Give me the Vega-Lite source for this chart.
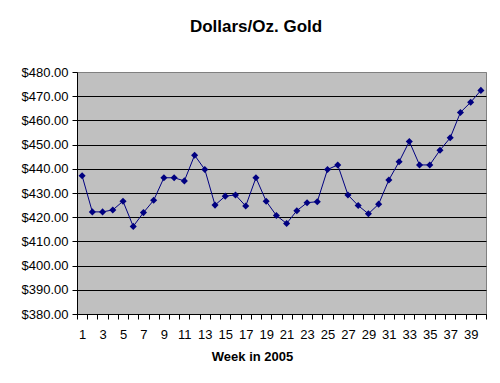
{
  "$schema": "https://vega.github.io/schema/vega-lite/v6.json",
  "width": 409,
  "height": 242,
  "autosize": {"type": "none"},
  "padding": {"left": 77, "top": 72, "right": 14, "bottom": 69},
  "background": "white",
  "title": {
    "text": "Dollars/Oz. Gold",
    "font": "Liberation Sans",
    "fontSize": 17,
    "fontWeight": "bold",
    "color": "black",
    "frame": "bounds",
    "anchor": "middle",
    "offset": 30
  },
  "config": {
    "view": {"fill": "#C0C0C0", "stroke": "#808080", "strokeWidth": 1},
    "axis": {
      "labelFont": "Liberation Sans",
      "labelFontSize": 13,
      "labelColor": "black",
      "titleFont": "Liberation Sans",
      "titleFontSize": 13,
      "titleFontWeight": "bold",
      "titleColor": "black",
      "domain": true,
      "domainColor": "#000000",
      "domainWidth": 1,
      "ticks": true,
      "tickColor": "#000000",
      "tickWidth": 1,
      "tickSize": 5
    }
  },
  "data": {
    "values": [
      {"week": 1, "price": 437.1},
      {"week": 2, "price": 422.2},
      {"week": 3, "price": 422.2},
      {"week": 4, "price": 423.0},
      {"week": 5, "price": 426.6},
      {"week": 6, "price": 416.2},
      {"week": 7, "price": 421.9},
      {"week": 8, "price": 427.0},
      {"week": 9, "price": 436.3},
      {"week": 10, "price": 436.3},
      {"week": 11, "price": 435.0},
      {"week": 12, "price": 445.6},
      {"week": 13, "price": 439.7},
      {"week": 14, "price": 425.0},
      {"week": 15, "price": 428.7},
      {"week": 16, "price": 429.2},
      {"week": 17, "price": 424.6},
      {"week": 18, "price": 436.3},
      {"week": 19, "price": 426.6},
      {"week": 20, "price": 420.7},
      {"week": 21, "price": 417.4},
      {"week": 22, "price": 422.7},
      {"week": 23, "price": 426.0},
      {"week": 24, "price": 426.4},
      {"week": 25, "price": 439.7},
      {"week": 26, "price": 441.6},
      {"week": 27, "price": 429.2},
      {"week": 28, "price": 424.8},
      {"week": 29, "price": 421.4},
      {"week": 30, "price": 425.4},
      {"week": 31, "price": 435.4},
      {"week": 32, "price": 442.9},
      {"week": 33, "price": 451.3},
      {"week": 34, "price": 441.6},
      {"week": 35, "price": 441.6},
      {"week": 36, "price": 447.7},
      {"week": 37, "price": 452.8},
      {"week": 38, "price": 463.3},
      {"week": 39, "price": 467.5},
      {"week": 40, "price": 472.4}
    ]
  },
  "encoding": {
    "x": {
      "field": "week",
      "type": "quantitative",
      "scale": {"domain": [0.5, 40.5], "nice": false, "zero": false},
      "axis": {
        "title": "Week in 2005",
        "titleX": 175,
        "titlePadding": 9,
        "values": [0.5, 1.5, 2.5, 3.5, 4.5, 5.5, 6.5, 7.5, 8.5, 9.5, 10.5, 11.5, 12.5, 13.5, 14.5, 15.5, 16.5, 17.5, 18.5, 19.5, 20.5, 21.5, 22.5, 23.5, 24.5, 25.5, 26.5, 27.5, 28.5, 29.5, 30.5, 31.5, 32.5, 33.5, 34.5, 35.5, 36.5, 37.5, 38.5, 39.5, 40.5],
        "labelExpr": "(datum.value % 2 === 0.5 && datum.value < 40) ? toString(datum.value + 0.5) : ''",
        "labelOffset": 5.1,
        "labelPadding": 9,
        "labelFlush": false,
        "labelOverlap": false,
        "labelBound": false,
        "grid": false
      }
    },
    "y": {
      "field": "price",
      "type": "quantitative",
      "scale": {"domain": [380, 480], "nice": false, "zero": false},
      "axis": {
        "title": null,
        "values": [380, 390, 400, 410, 420, 430, 440, 450, 460, 470, 480],
        "format": "$.2f",
        "labelPadding": 4,
        "labelOverlap": false,
        "grid": true,
        "gridColor": {"condition": {"test": "datum.value === 480", "value": "#808080"}, "value": "black"},
        "gridOpacity": 1
      }
    }
  },
  "layer": [
    {
      "mark": {"type": "line", "color": "#000080", "strokeWidth": 1}
    },
    {
      "mark": {"type": "point", "shape": "diamond", "filled": true, "color": "#000080", "opacity": 1, "size": 50}
    }
  ]
}
